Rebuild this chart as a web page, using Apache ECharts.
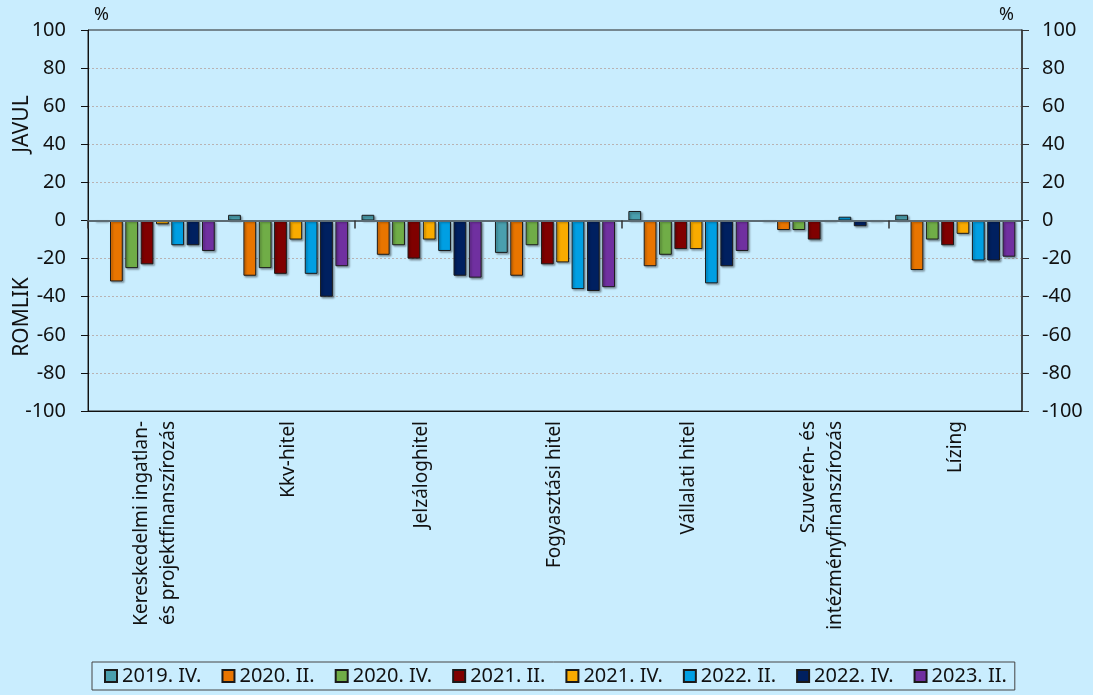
<!DOCTYPE html>
<html>
<head>
<meta charset="utf-8">
<script src="https://cdn.jsdelivr.net/npm/echarts@6/dist/echarts.min.js"></script>
<style>
  html, body { margin: 0; padding: 0; background: #c9edfe; }
  #chart { width: 1093px; height: 695px; }
</style>
</head>
<body>
<div id="chart"></div>
<script>
// categories (x axis)
var categories = [
  'Kereskedelmi ingatlan-\nés projektfinanszírozás',
  'Kkv-hitel',
  'Jelzáloghitel',
  'Fogyasztási hitel',
  'Vállalati hitel',
  'Szuverén- és\nintézményfinanszírozás',
  'Lízing'
];
var seriesNames = ['2019. IV.', '2020. II.', '2020. IV.', '2021. II.', '2021. IV.', '2022. II.', '2022. IV.', '2023. II.'];
var seriesColors = ['#4a9fae', '#e87500', '#70ad47', '#800000', '#f9ab00', '#009fe3', '#002060', '#7030a0'];

// values per survey period (one value per category)
var v2019IV = [0, 3, 3, -17, 5, 0, 3];
var v2020II = [-32, -29, -18, -29, -24, -5, -26];
var v2020IV = [-25, -25, -13, -13, -18, -5, -10];
var v2021II = [-23, -28, -20, -23, -15, -10, -13];
var v2021IV = [-2, -10, -10, -22, -15, 0, -7];
var v2022II = [-13, -28, -16, -36, -33, 2, -21];
var v2022IV = [-13, -40, -29, -37, -24, -3, -21];
var v2023II = [-16, -24, -30, -35, -16, 0, -19];
var allValues = [v2019IV, v2020II, v2020IV, v2021II, v2021IV, v2022II, v2022IV, v2023II];

var yTicks = { min: -100, max: 100, interval: 20 };

var font = 'Noto Sans';
var chart = echarts.init(document.getElementById('chart'));

var series = [];
for (var i = 0; i < seriesNames.length; i++) {
  series.push({
    name: seriesNames[i],
    type: 'bar',
    xAxisIndex: 0,
    yAxisIndex: 0,
    data: allValues[i],
    barGap: '20%',
    barCategoryGap: '10%',
    itemStyle: {
      color: seriesColors[i],
      borderColor: '#1a1a1a',
      borderWidth: 1,
      shadowColor: 'rgba(0,0,0,0.35)',
      shadowBlur: 2,
      shadowOffsetX: 1.5,
      shadowOffsetY: 1.5
    },
    emphasis: { disabled: true },
    animation: false
  });
}

var option = {
  backgroundColor: '#c9edfe',
  animation: false,
  textStyle: { fontFamily: font },
  grid: {
    left: 88, right: 71, top: 30, bottom: 284,
    show: true, borderColor: '#222', borderWidth: 1,
    backgroundColor: 'transparent'
  },
  legend: {
    data: seriesNames,
    left: 92, top: 662,
    padding: [4, 8, 4, 12],
    borderColor: '#444', borderWidth: 1,
    itemWidth: 12, itemHeight: 12, itemGap: 20,
    icon: 'rect',
    textStyle: { fontFamily: font, fontSize: 20, color: '#111' }
  },
  xAxis: [
    {
      type: 'category',
      data: categories,
      position: 'bottom',
      axisLine: { onZero: false, lineStyle: { color: '#111', width: 1 } },
      axisTick: { show: false },
      axisLabel: {
        rotate: 90, margin: 10, fontFamily: font, fontSize: 19, color: '#111',
        lineHeight: 27, interval: 0
      }
    },
    {
      type: 'category',
      data: categories,
      position: 'top',
      z: 10,
      axisLine: { onZero: true, onZeroAxisIndex: 0, lineStyle: { color: '#5c6b73', width: 2 } },
      axisTick: { show: true, inside: true, length: 8, lineStyle: { color: '#333', width: 1.5 } },
      axisLabel: { show: false }
    }
  ],
  yAxis: [
    {
      type: 'value',
      min: yTicks.min, max: yTicks.max, interval: yTicks.interval,
      position: 'left',
      axisLine: { show: true, lineStyle: { color: '#111' } },
      axisTick: { show: true, length: 7, lineStyle: { color: '#111' } },
      axisLabel: { margin: 22, fontFamily: font, fontSize: 20, color: '#111' },
      splitLine: { show: true, showMinLine: false, showMaxLine: false,
        lineStyle: { color: '#b9b3b3', type: [2, 2], width: 1 } }
    },
    {
      type: 'value',
      min: yTicks.min, max: yTicks.max, interval: yTicks.interval,
      position: 'right',
      axisLine: { show: true, lineStyle: { color: '#333', width: 1.5 } },
      axisTick: { show: true, length: 7, lineStyle: { color: '#333' } },
      axisLabel: { margin: 20, fontFamily: font, fontSize: 20, color: '#111' },
      splitLine: { show: false }
    }
  ],
  graphic: [
    { type: 'text', left: 94, top: 6, style: { text: '%', fontFamily: font, fontSize: 18, fill: '#111' } },
    { type: 'text', left: 999, top: 6, style: { text: '%', fontFamily: font, fontSize: 18, fill: '#111' } },
    { type: 'text', x: 22, y: 124, rotation: Math.PI / 2,
      style: { text: 'JAVUL', fontFamily: font, fontSize: 21, fill: '#111', align: 'center', verticalAlign: 'middle' } },
    { type: 'text', x: 22, y: 317, rotation: Math.PI / 2,
      style: { text: 'ROMLIK', fontFamily: font, fontSize: 21, fill: '#111', align: 'center', verticalAlign: 'middle' } }
  ],
  series: series
};

chart.setOption(option);
</script>
</body>
</html>
